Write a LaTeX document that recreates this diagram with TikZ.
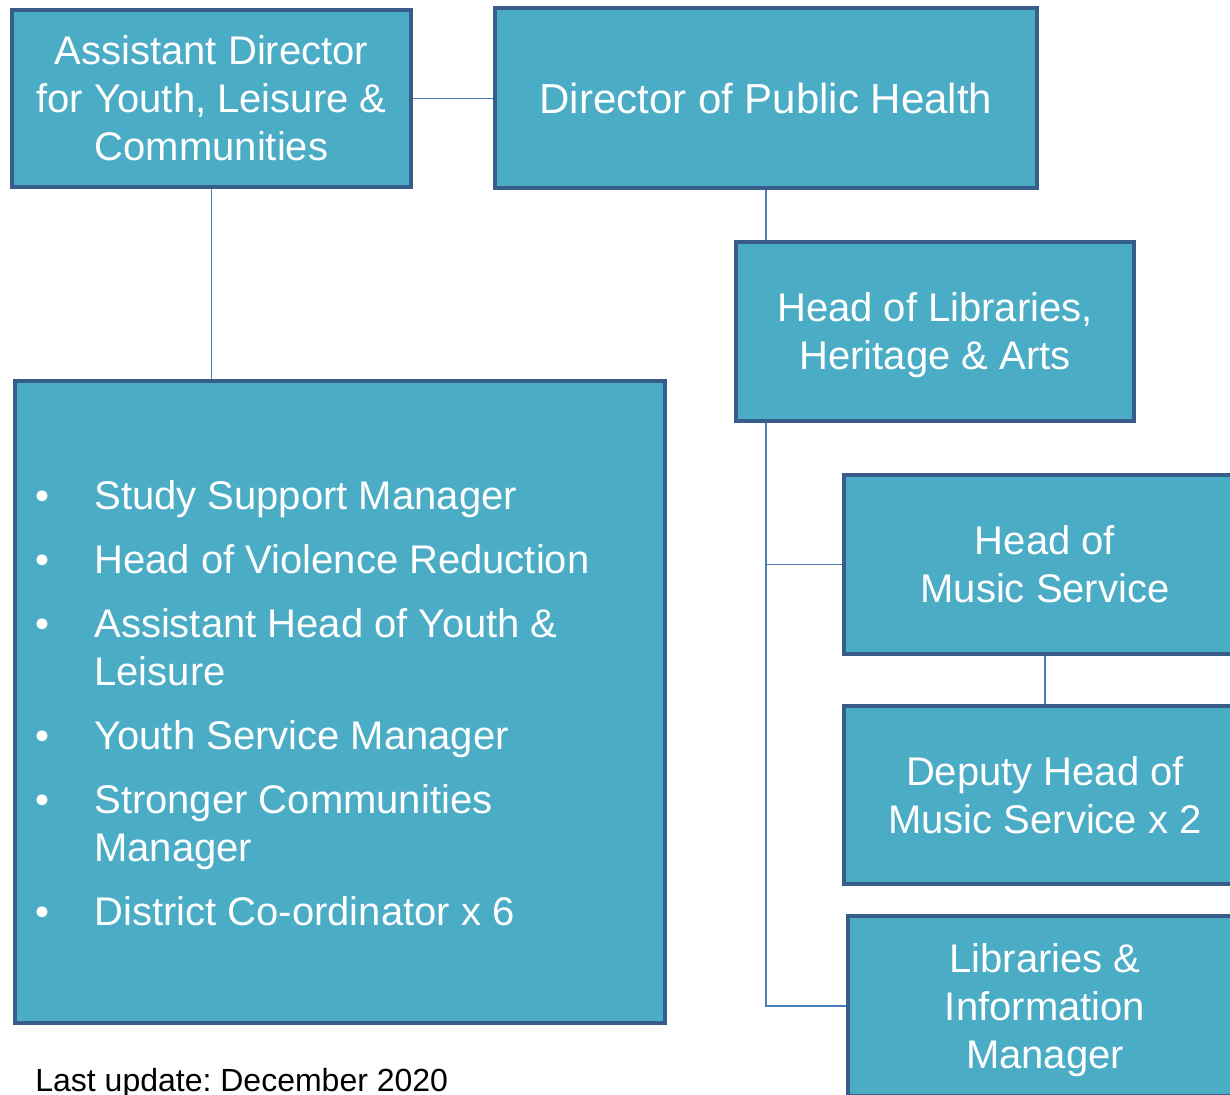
\documentclass[tikz,border=0pt]{standalone}
\usepackage{fontspec}
\setmainfont{Liberation Sans}
\usepackage{tikz}
\usepackage{xcolor}
\definecolor{boxfill}{HTML}{4BACC6}
\definecolor{boxline}{HTML}{385D8A}
\definecolor{linkline}{HTML}{4A7EBB}
\frenchspacing

\begin{document}
\begin{tikzpicture}[x=0.5pt,y=-0.5pt,
  every node/.style={font=\fontsize{20}{24}\selectfont},
  rolebox/.style={draw=boxline,line width=2pt,fill=boxfill,text=white,align=center,inner sep=0pt,text depth=0pt},
  link/.style={draw=linkline,line width=0.75pt}]
\clip (0,0) rectangle (1230,1095);
\node[rolebox,minimum width=199.5pt,minimum height=88.5pt] (asstdir) at (211.5,98.5) {Assistant Director\\for Youth, Leisure \&\\Communities};
\node[rolebox,minimum width=271pt,minimum height=90pt,font=\fontsize{21}{25}\selectfont] (dirph) at (766,98) {Director of Public Health};
\node[rolebox,minimum width=199pt,minimum height=89.5pt] (headlib) at (935,331.5) {Head of Libraries,\\Heritage \& Arts};
\node[rolebox,minimum width=325pt,minimum height=321pt] (youth) at (340,702) {};
\node[rolebox,minimum width=201pt,minimum height=89.5pt] (headmusic) at (1045,564.5) {Head of\\Music Service};
\node[rolebox,minimum width=201pt,minimum height=89pt] (deputymusic) at (1045,795) {Deputy Head of\\Music Service x 2};
\node[rolebox,minimum width=197pt,minimum height=90pt] (libinfo) at (1045,1006) {Libraries \&\\Information\\Manager};
\node[text=white,anchor=west,inner sep=0pt] (youthlist) at (35,708) {\begin{tabular}{@{}p{29.5pt}@{}l@{}}
\textbullet & Study Support Manager\\[8pt]
\textbullet & Head of Violence Reduction\\[8pt]
\textbullet & Assistant Head of Youth \&\\
 & Leisure\\[8pt]
\textbullet & Youth Service Manager\\[8pt]
\textbullet & Stronger Communities\\
 & Manager\\[8pt]
\textbullet & District Co-ordinator x 6
\end{tabular}};
\node[anchor=west,inner sep=0pt,font=\fontsize{16}{19}\selectfont] (updated) at (35,1083) {Last update: December 2020};
\draw[link] (asstdir.east) -- (asstdir.east -| dirph.west);
\draw[link] (asstdir.south) -- (asstdir.south |- youth.north);
\draw[link] (dirph.south) -- (dirph.south |- headlib.north);
\draw[link] (dirph.south |- headlib.south) |- (headmusic.west);
\draw[link] (dirph.south |- headlib.south) |- (libinfo.west);
\draw[link] (headmusic.south) -- (deputymusic.north);
\end{tikzpicture}
\end{document}
